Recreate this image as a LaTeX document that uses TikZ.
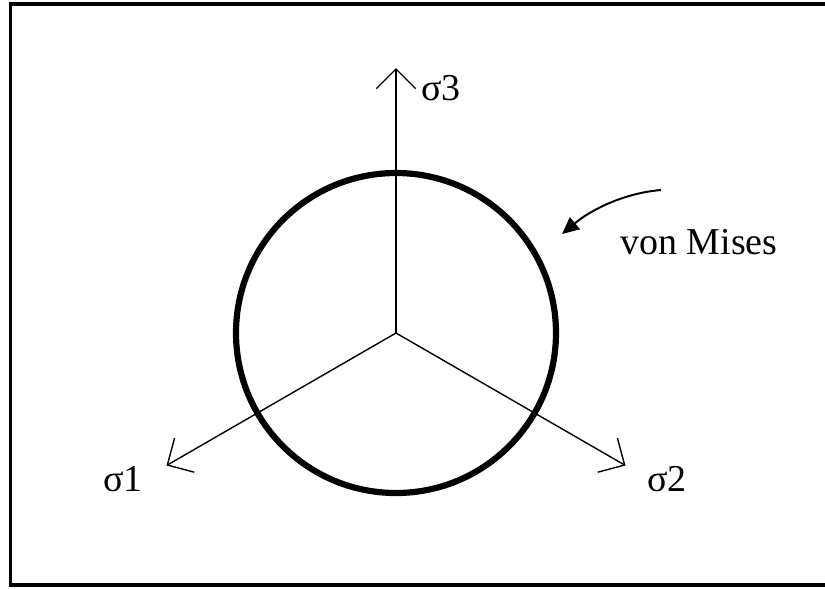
\documentclass[tikz,border=0pt]{standalone}
\usepackage{fontspec}
\setmainfont{Liberation Serif}
\usetikzlibrary{arrows.meta, positioning}

\begin{document}
\begin{tikzpicture}[x=0.025cm, y=-0.025cm,
  every node/.style={font=\fontsize{27}{30}\selectfont, inner sep=0pt},
  axis/.style={line width=1pt, -{Straight Barb[length=14pt, width=28pt, line width=1pt]}},
  yieldcircle/.style={line width=4.4pt},
  pointer/.style={line width=1.4pt, -{Triangle[length=12pt, width=11pt]}}]
  \useasboundingbox (0,0) rectangle (825,588);
  % frame
  \draw[line width=2.2pt] (830,4) -- (10.5,4) -- (10.5,585) -- (830,585);
  \coordinate (O) at (396,333);
  \draw[yieldcircle] (O) circle (160);
  % principal stress axes
  \foreach \ang/\n in {-90/3, 150/1, 30/2} {
    \draw[axis] (O) -- ++(\ang:265) coordinate (tip\n);
  }
  \node (s3) at (441,88) {σ3};
  \node (s1) at (123,479) {σ1};
  \node (s2) at (667,479) {σ2};
  \node[anchor=base west] (vm) at (620,254) {von Mises};
  \coordinate (tail) at (661,190);
  \coordinate (head) at (562,234);
  \draw[pointer] (tail) .. controls (625,193) and (592,209) .. (head);
\end{tikzpicture}
\end{document}
